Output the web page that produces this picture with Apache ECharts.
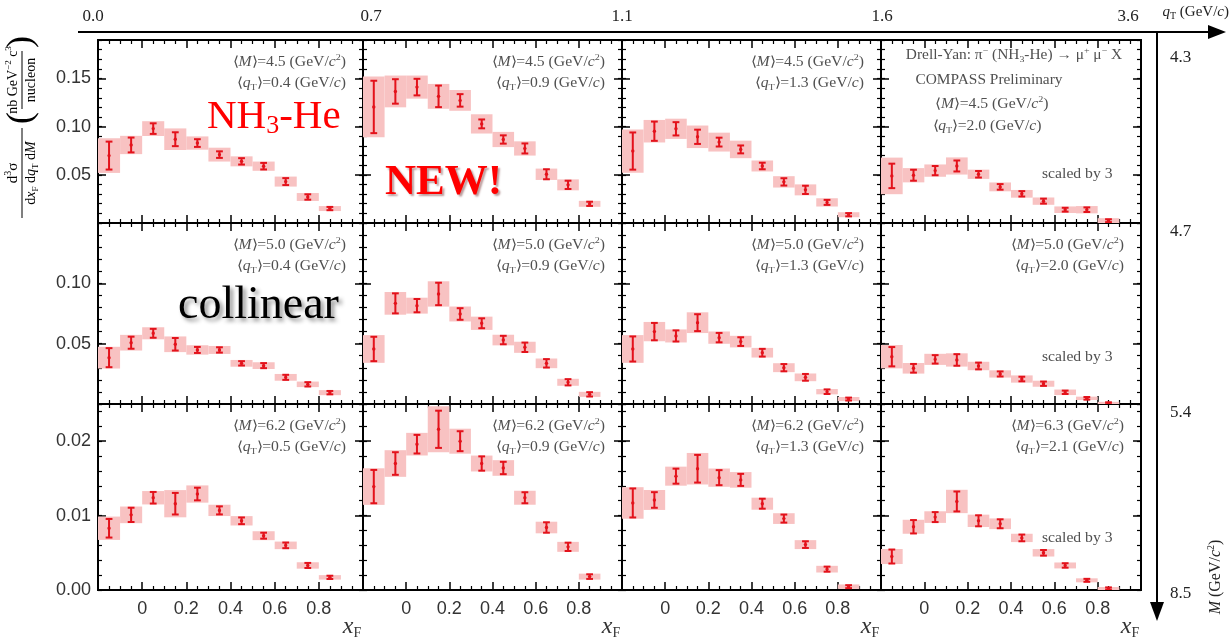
<!DOCTYPE html>
<html>
<head>
<meta charset="utf-8">
<script src="https://cdn.jsdelivr.net/npm/echarts/dist/echarts.min.js"></script>
<style>
  html, body { margin: 0; padding: 0; background: #fff; }
  #chart { width: 1230px; height: 643px; }
</style>
</head>
<body>
<div id="chart"></div>
<script>
// ---- xF binning (shared by every panel) ----
const xfCenter = [-0.15, -0.05, 0.05, 0.15, 0.25, 0.35, 0.45, 0.55, 0.65, 0.75, 0.85];
const binLow   = [-0.2, -0.1, 0.0, 0.1, 0.2, 0.3, 0.4, 0.5, 0.6, 0.7, 0.8];
const binHigh  = [-0.1, 0.0, 0.1, 0.2, 0.3, 0.4, 0.5, 0.6, 0.7, 0.8, 0.9];

// ---- cross sections (nb GeV^-2 c^3 / nucleon), stat. errors, syst. errors ----
// <M>=4.5
const cs_M45_qT04   = [0.070, 0.081, 0.098, 0.087, 0.083, 0.071, 0.064, 0.059, 0.043, 0.027, 0.015];
const stat_M45_qT04 = [0.0145, 0.0077, 0.0055, 0.0072, 0.0040, 0.0034, 0.0033, 0.0034, 0.0036, 0.0028, 0.0017];
const sys_M45_qT04  = [0.0180, 0.0095, 0.0077, 0.0112, 0.0069, 0.0072, 0.0052, 0.0048, 0.0052, 0.0041, 0.0026];

const cs_M45_qT09   = [0.1205, 0.1366, 0.1411, 0.1315, 0.1273, 0.1029, 0.0867, 0.0774, 0.0506, 0.0396, 0.0199];
const stat_M45_qT09 = [0.0272, 0.0127, 0.0086, 0.0112, 0.0065, 0.0046, 0.0043, 0.0052, 0.0052, 0.0043, 0.0022];
const sys_M45_qT09  = [0.0315, 0.0165, 0.0120, 0.0129, 0.0108, 0.0100, 0.0079, 0.0074, 0.0059, 0.0057, 0.0031];

const cs_M45_qT13   = [0.0747, 0.0953, 0.0978, 0.0895, 0.0840, 0.0764, 0.0592, 0.0427, 0.0344, 0.0214, 0.0086];
const stat_M45_qT13 = [0.0193, 0.0100, 0.0069, 0.0074, 0.0046, 0.0041, 0.0034, 0.0038, 0.0043, 0.0026, 0.0017];
const sys_M45_qT13  = [0.0224, 0.0117, 0.0105, 0.0117, 0.0098, 0.0091, 0.0057, 0.0059, 0.0057, 0.0043, 0.0026];

const cs_M45_qT20   = [0.0489, 0.0496, 0.0544, 0.0592, 0.0506, 0.0375, 0.0303, 0.0227, 0.0138, 0.0138, 0.0024];
const stat_M45_qT20 = [0.0127, 0.0057, 0.0048, 0.0057, 0.0034, 0.0029, 0.0028, 0.0026, 0.0020, 0.0024, 0.0015];
const sys_M45_qT20  = [0.0190, 0.0074, 0.0064, 0.0089, 0.0048, 0.0046, 0.0040, 0.0038, 0.0034, 0.0038, 0.0026];

// <M>=5.0
const cs_M50_qT04   = [0.0384, 0.0508, 0.0586, 0.0495, 0.0448, 0.0448, 0.0337, 0.0318, 0.0221, 0.0163, 0.0094];
const stat_M50_qT04 = [0.0079, 0.0050, 0.0037, 0.0052, 0.0025, 0.0022, 0.0018, 0.0021, 0.0021, 0.0018, 0.0014];
const sys_M50_qT04  = [0.0090, 0.0065, 0.0050, 0.0065, 0.0039, 0.0033, 0.0028, 0.0028, 0.0028, 0.0023, 0.0021];

const cs_M50_qT09   = [0.0456, 0.0834, 0.0815, 0.0912, 0.0746, 0.0669, 0.0530, 0.0470, 0.0337, 0.0180, 0.0080];
const stat_M50_qT09 = [0.0101, 0.0083, 0.0055, 0.0093, 0.0048, 0.0041, 0.0035, 0.0039, 0.0035, 0.0026, 0.0018];
const sys_M50_qT09  = [0.0115, 0.0094, 0.0066, 0.0105, 0.0062, 0.0055, 0.0044, 0.0046, 0.0040, 0.0029, 0.0021];

const cs_M50_qT13   = [0.0456, 0.0600, 0.0564, 0.0674, 0.0550, 0.0517, 0.0425, 0.0301, 0.0221, 0.0102, 0.0041];
const stat_M50_qT13 = [0.0104, 0.0072, 0.0046, 0.0070, 0.0039, 0.0036, 0.0032, 0.0030, 0.0028, 0.0019, 0.0012];
const sys_M50_qT13  = [0.0115, 0.0080, 0.0054, 0.0086, 0.0051, 0.0048, 0.0040, 0.0037, 0.0032, 0.0022, 0.0017];

const cs_M50_qT20   = [0.0392, 0.0296, 0.0370, 0.0365, 0.0315, 0.0249, 0.0207, 0.0168, 0.0097, 0.0047, 0.0006];
const stat_M50_qT20 = [0.0080, 0.0036, 0.0035, 0.0048, 0.0028, 0.0021, 0.0019, 0.0018, 0.0014, 0.0011, 0.0008];
const sys_M50_qT20  = [0.0097, 0.0044, 0.0046, 0.0055, 0.0035, 0.0030, 0.0030, 0.0025, 0.0023, 0.0014, 0.0012];

// <M>=6.2 / 6.3
const cs_M62_qT05   = [0.0083, 0.0101, 0.0124, 0.0116, 0.0129, 0.0107, 0.0093, 0.0073, 0.0060, 0.0033, 0.0017];
const stat_M62_qT05 = [0.00125, 0.00096, 0.00078, 0.00145, 0.00085, 0.00054, 0.00045, 0.00040, 0.00038, 0.00034, 0.00022];
const sys_M62_qT05  = [0.00157, 0.00112, 0.00090, 0.00183, 0.00116, 0.00076, 0.00063, 0.00060, 0.00051, 0.00043, 0.00030];

const cs_M62_qT09   = [0.0139, 0.0170, 0.0196, 0.0216, 0.0200, 0.0170, 0.0164, 0.0124, 0.0084, 0.0058, 0.0018];
const stat_M62_qT09 = [0.00224, 0.00152, 0.00125, 0.00250, 0.00134, 0.00096, 0.00083, 0.00074, 0.00070, 0.00056, 0.00031];
const sys_M62_qT09  = [0.00246, 0.00179, 0.00152, 0.00309, 0.00168, 0.00107, 0.00105, 0.00094, 0.00078, 0.00067, 0.00040];

const cs_M62_qT13   = [0.0117, 0.0121, 0.0153, 0.0163, 0.0151, 0.0148, 0.0116, 0.0096, 0.0061, 0.0028, 0.00045];
const stat_M62_qT13 = [0.00195, 0.00105, 0.00101, 0.00186, 0.00101, 0.00081, 0.00067, 0.00054, 0.00045, 0.00034, 0.00020];
const sys_M62_qT13  = [0.00212, 0.00134, 0.00128, 0.00212, 0.00123, 0.00105, 0.00081, 0.00072, 0.00060, 0.00045, 0.00030];

const cs_M63_qT21   = [0.0045, 0.0085, 0.0098, 0.0119, 0.0093, 0.0089, 0.0070, 0.0050, 0.0033, 0.0013, 0.0002];
const stat_M63_qT21 = [0.00094, 0.00090, 0.00067, 0.00134, 0.00074, 0.00060, 0.00045, 0.00038, 0.00030, 0.00020, 0.00015];
const sys_M63_qT21  = [0.00101, 0.00094, 0.00078, 0.00157, 0.00083, 0.00072, 0.00056, 0.00050, 0.00040, 0.00027, 0.00020];

// ---- panel kinematics ----
const meanM  = ['4.5', '4.5', '4.5', '4.5', '5.0', '5.0', '5.0', '5.0', '6.2', '6.2', '6.2', '6.3'];
const meanQT = ['0.4', '0.9', '1.3', '2.0', '0.4', '0.9', '1.3', '2.0', '0.5', '0.9', '1.3', '2.1'];

// ---- outer bin-edge axes ----
const qTEdgeLabels = ['0.0', '0.7', '1.1', '1.6', '3.6'];
const massEdgeLabels = ['4.3', '4.7', '5.4', '8.5'];

// ---- y-axis ranges per row ----
const rowYMax  = [0.19, 0.15, 0.025];
const rowMajor = [0.05, 0.05, 0.01];
const rowMinor = [0.01, 0.01, 0.002];

const panelData = [
  [cs_M45_qT04, stat_M45_qT04, sys_M45_qT04],
  [cs_M45_qT09, stat_M45_qT09, sys_M45_qT09],
  [cs_M45_qT13, stat_M45_qT13, sys_M45_qT13],
  [cs_M45_qT20, stat_M45_qT20, sys_M45_qT20],
  [cs_M50_qT04, stat_M50_qT04, sys_M50_qT04],
  [cs_M50_qT09, stat_M50_qT09, sys_M50_qT09],
  [cs_M50_qT13, stat_M50_qT13, sys_M50_qT13],
  [cs_M50_qT20, stat_M50_qT20, sys_M50_qT20],
  [cs_M62_qT05, stat_M62_qT05, sys_M62_qT05],
  [cs_M62_qT09, stat_M62_qT09, sys_M62_qT09],
  [cs_M62_qT13, stat_M62_qT13, sys_M62_qT13],
  [cs_M63_qT21, stat_M63_qT21, sys_M63_qT21]
];

// ---- layout ----
const colEdges = [98, 363, 622, 881, 1141];
const rowEdges = [40, 223, 404, 590];

const SERIF = '"Liberation Serif","Times New Roman",Times,serif';
const SANS = '"Liberation Sans",Arial,Helvetica,sans-serif';
const ERR_RED = '#e3121b';
const BOX_PINK = '#f8c2c2';
const NOTE_GRAY = '#505050';

function richSet(size, color) {
  return {
    b:   { fontFamily: SERIF, fontSize: size, fill: color, lineHeight: size + 4 },
    i:   { fontFamily: SERIF, fontSize: size, fontStyle: 'italic', fill: color, lineHeight: size + 4 },
    sup: { fontFamily: SERIF, fontSize: Math.round(size * 0.65), fill: color, verticalAlign: 'top', lineHeight: Math.round(size * 0.65) },
    sub: { fontFamily: SERIF, fontSize: Math.round(size * 0.65), fill: color, verticalAlign: 'bottom', lineHeight: Math.round(size * 0.65) },
    p:   { fontFamily: SERIF, fontSize: Math.round(size * 2.6), fill: color, lineHeight: Math.round(size * 2.7) }
  };
}

function textEl(x, y, text, size, color, align, extra) {
  return Object.assign({
    type: 'text', x: x, y: y, z: 100, silent: true,
    style: {
      text: text, rich: richSet(size, color), fill: color,
      fontFamily: SERIF, fontSize: size,
      align: align, textAlign: align, verticalAlign: 'middle', textVerticalAlign: 'middle'
    }
  }, extra || {});
}

const grid = [], xAxis = [], yAxis = [], series = [];
const frameLine = { show: true, onZero: false, lineStyle: { color: '#000', width: 2 } };

panelData.forEach(function (pd, k) {
  const r = Math.floor(k / 4), c = k % 4;
  grid.push({
    left: colEdges[c], top: rowEdges[r],
    width: colEdges[c + 1] - colEdges[c], height: rowEdges[r + 1] - rowEdges[r],
    containLabel: false, outerBoundsMode: 'none'
  });

  const xBase = {
    type: 'value', gridIndex: k, min: -0.2, max: 1.0, interval: 0.2,
    axisLine: frameLine, splitLine: { show: false },
    axisTick: { show: true, inside: true, length: 8, lineStyle: { color: '#000', width: 1.5 } },
    minorTick: { show: true, splitNumber: 4, length: 4, lineStyle: { color: '#000', width: 1.2 } }
  };
  xAxis.push(Object.assign({}, xBase, {
    position: 'bottom',
    axisLabel: {
      show: r === 2, margin: 10, fontSize: 18, color: '#333', fontFamily: SANS,
      showMinLabel: true, showMaxLabel: true,
      formatter: function (v) {
        if (Math.abs(v) < 1e-9) return '0';
        if (v < 0 || v > 0.85) return '';
        return v.toFixed(1);
      }
    }
  }));
  xAxis.push(Object.assign({}, xBase, { position: 'top', axisLabel: { show: false } }));

  const yMax = rowYMax[r], maj = rowMajor[r], mnr = rowMinor[r];
  const yMinor = {
    type: 'value', gridIndex: k, min: 0, max: yMax, interval: mnr,
    axisLine: frameLine, splitLine: { show: false },
    axisTick: { show: true, inside: true, length: 4, lineStyle: { color: '#000', width: 1.2 } },
    axisLabel: { show: false }
  };
  const yMajor = {
    type: 'value', gridIndex: k, min: 0, max: yMax, interval: maj,
    axisLine: frameLine, splitLine: { show: false },
    axisTick: { show: true, inside: true, length: 8, lineStyle: { color: '#000', width: 1.5 } }
  };
  yAxis.push(Object.assign({}, yMinor, { position: 'left' }));
  yAxis.push(Object.assign({}, yMajor, {
    position: 'left',
    axisLabel: {
      show: c === 0, margin: 7, fontSize: 18, color: '#333', fontFamily: SANS,
      showMinLabel: true, showMaxLabel: true,
      formatter: function (v) {
        const q = v / maj;
        if (Math.abs(q - Math.round(q)) > 1e-6) return '';
        if (v > yMax - 1e-9) return '';
        if (r < 2 && v < 1e-9) return '';
        return v.toFixed(2);
      }
    }
  }));
  yAxis.push(Object.assign({}, yMinor, { position: 'right' }));
  yAxis.push(Object.assign({}, yMajor, { position: 'right', axisLabel: { show: false } }));

  const vals = pd[0], stat = pd[1], sys = pd[2];
  series.push({
    type: 'custom',
    xAxisIndex: 2 * k, yAxisIndex: 4 * k + 1,
    clip: true, silent: true,
    data: xfCenter.map(function (x, i) { return [x, vals[i], stat[i], sys[i], binLow[i], binHigh[i]]; }),
    renderItem: function (params, api) {
      const x = api.value(0), y = api.value(1), st = api.value(2), sy = api.value(3);
      const lo = api.value(4), hi = api.value(5);
      const b0 = api.coord([lo, y + sy]);
      const b1 = api.coord([hi, y - sy]);
      const c0 = api.coord([x, y]);
      const eT = api.coord([x, y + st]);
      const eB = api.coord([x, y - st]);
      const cap = 3.4;
      const red = { stroke: ERR_RED, lineWidth: 2 };
      return {
        type: 'group',
        children: [
          { type: 'rect', shape: { x: b0[0], y: b0[1], width: b1[0] - b0[0], height: b1[1] - b0[1] },
            style: { fill: BOX_PINK } },
          { type: 'line', shape: { x1: c0[0], y1: eT[1], x2: c0[0], y2: eB[1] }, style: red },
          { type: 'line', shape: { x1: c0[0] - cap, y1: eT[1], x2: c0[0] + cap, y2: eT[1] }, style: red },
          { type: 'line', shape: { x1: c0[0] - cap, y1: eB[1], x2: c0[0] + cap, y2: eB[1] }, style: red },
          { type: 'circle', shape: { cx: c0[0], cy: c0[1], r: 1.7 }, style: { fill: ERR_RED } }
        ]
      };
    }
  });
});

// ---- text overlays, outer axes, titles ----
const graphic = [];

// per-panel <M>, <qT> notes
panelData.forEach(function (pd, k) {
  const r = Math.floor(k / 4), c = k % 4;
  const right = colEdges[c + 1] - 17;
  const top = rowEdges[r];
  const lineM = '{b|⟨}{i|M}{b|⟩=' + meanM[k] + ' (GeV/}{i|c}{sup|2}{b|)}';
  const lineQ = '{b|⟨}{i|q}{sub|T}{b|⟩=' + meanQT[k] + ' (GeV/}{i|c}{b|)}';
  if (k === 3) {
    graphic.push(textEl(1014, 55, '{b|Drell-Yan: π}{sup|−}{b| (NH}{sub|3}{b|-He) → μ}{sup|+}{b| μ}{sup|−}{b| X}', 14, NOTE_GRAY, 'center', { scaleX: 1.1 }));
    graphic.push(textEl(989, 80, '{b|COMPASS Preliminary}', 14, NOTE_GRAY, 'center', { scaleX: 1.1 }));
    graphic.push(textEl(992, 104, lineM, 14, NOTE_GRAY, 'center', { scaleX: 1.12 }));
    graphic.push(textEl(987, 126, lineQ, 14, NOTE_GRAY, 'center', { scaleX: 1.12 }));
  } else {
    graphic.push(textEl(right, top + 22, lineM, 14, NOTE_GRAY, 'right', { scaleX: 1.12 }));
    graphic.push(textEl(right, top + 43, lineQ, 14, NOTE_GRAY, 'right', { scaleX: 1.12 }));
  }
  if (c === 3) {
    graphic.push(textEl(1042, top + 134, '{b|scaled by 3}', 14, NOTE_GRAY, 'left', { scaleX: 1.12 }));
  }
  if (r === 2) {
    graphic.push({
      type: 'text', x: colEdges[c + 1] - 11, y: 627, z: 100, silent: true,
      style: {
        text: '{x|x}{f|F}', align: 'center', textAlign: 'center', verticalAlign: 'middle', textVerticalAlign: 'middle',
        rich: {
          x: { fontFamily: SERIF, fontStyle: 'italic', fontSize: 24, fill: '#333', lineHeight: 26 },
          f: { fontFamily: SERIF, fontSize: 14, fill: '#333', verticalAlign: 'bottom', lineHeight: 12 }
        }
      }
    });
  }
});

// top qT axis with arrow
graphic.push({ type: 'line', z: 100, shape: { x1: 78, y1: 32, x2: 1212, y2: 32 }, style: { stroke: '#000', lineWidth: 2 } });
graphic.push({ type: 'polygon', z: 100, shape: { points: [[1226, 32], [1208, 25], [1208, 39]] }, style: { fill: '#000' } });
const qTEdgeX = [93, 371, 622, 882, 1128];
qTEdgeLabels.forEach(function (t, i) {
  graphic.push(textEl(qTEdgeX[i], 17, '{b|' + t + '}', 17, '#222', 'center'));
});
graphic.push(textEl(1229, 12, '{i|q}{sub|T}{b| (GeV/}{i|c}{b|)}', 15, '#222', 'right'));

// right mass axis with arrow
graphic.push({ type: 'line', z: 100, shape: { x1: 1157, y1: 32, x2: 1157, y2: 606 }, style: { stroke: '#000', lineWidth: 2 } });
graphic.push({ type: 'polygon', z: 100, shape: { points: [[1157, 621], [1150, 602], [1164, 602]] }, style: { fill: '#000' } });
const massEdgeY = [58, 232, 413, 594];
massEdgeLabels.forEach(function (t, i) {
  graphic.push(textEl(1170, massEdgeY[i], '{b|' + t + '}', 17, '#222', 'left'));
});
graphic.push(textEl(1216, 577, '{i|M}{b| (GeV/}{i|c}{sup|2}{b|)}', 16, '#222', 'center', { rotation: Math.PI / 2 }));

// left y-axis title (rotated group, reads bottom to top)
const T = 14;
graphic.push({
  type: 'group', x: 22, y: 219, rotation: Math.PI / 2, z: 100, silent: true,
  children: [
    textEl(46, -9, '{b|d}{sup|3}{b|σ}', T + 1, '#000', 'center'),
    { type: 'line', shape: { x1: 1, y1: 0, x2: 91, y2: 0 }, style: { stroke: '#000', lineWidth: 1 } },
    textEl(46, 9, '{b|d}{i|x}{sub|F}{b| d}{i|q}{sub|T}{b| d}{i|M}', T, '#000', 'center'),
    textEl(101, 0, '{p|(}', T, '#000', 'center'),
    textEl(139, -9, '{b|nb GeV}{sup|−2}{b| c}{sup|3}', T, '#000', 'center'),
    { type: 'line', shape: { x1: 110, y1: 0, x2: 168, y2: 0 }, style: { stroke: '#000', lineWidth: 1 } },
    textEl(139, 9, '{b|nucleon}', T, '#000', 'center'),
    textEl(177, 0, '{p|)}', T, '#000', 'center')
  ]
});

// slide call-outs
graphic.push({
  type: 'text', x: 207, y: 117, z: 110, silent: true,
  style: {
    text: '{a|NH}{s|3}{a|-He}', align: 'left', textAlign: 'left', verticalAlign: 'middle', textVerticalAlign: 'middle',
    rich: {
      a: { fontFamily: SERIF, fontSize: 41, fill: '#ff0000', lineHeight: 44 },
      s: { fontFamily: SERIF, fontSize: 26, fill: '#ff0000', verticalAlign: 'bottom', lineHeight: 24 }
    }
  }
});
graphic.push({
  type: 'text', x: 385, y: 183, z: 110, silent: true,
  style: {
    text: 'NEW!', fontFamily: SERIF, fontSize: 43, fontWeight: 'bold', fill: '#ff0000',
    align: 'left', textAlign: 'left', verticalAlign: 'middle', textVerticalAlign: 'middle',
    textShadowColor: 'rgba(80,0,0,0.4)', textShadowBlur: 2, textShadowOffsetX: 2, textShadowOffsetY: 2
  }
});
graphic.push({
  type: 'text', x: 178, y: 306, z: 110, silent: true,
  style: {
    text: 'collinear', fontFamily: SERIF, fontSize: 46, fill: '#000',
    align: 'left', textAlign: 'left', verticalAlign: 'middle', textVerticalAlign: 'middle',
    textShadowColor: 'rgba(0,0,0,0.45)', textShadowBlur: 4, textShadowOffsetX: 3, textShadowOffsetY: 3
  }
});

const chart = echarts.init(document.getElementById('chart'), null, { renderer: 'canvas' });
chart.setOption({
  backgroundColor: '#fff',
  animation: false,
  grid: grid,
  xAxis: xAxis,
  yAxis: yAxis,
  series: series,
  graphic: graphic
});
</script>
</body>
</html>
